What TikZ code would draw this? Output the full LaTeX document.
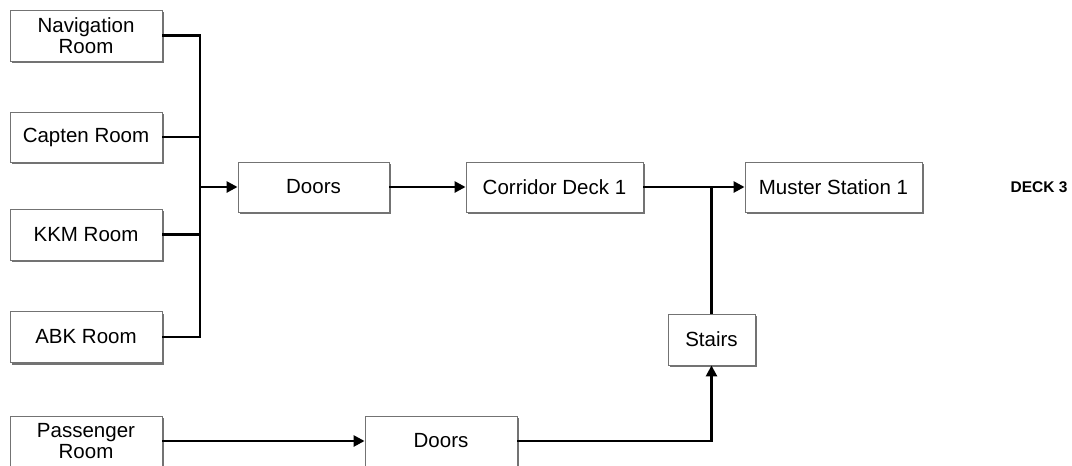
\documentclass[tikz,border=0pt]{standalone}
\usepackage{fontspec}
\setmainfont{Liberation Sans}
\usetikzlibrary{arrows.meta,shadows}
\begin{document}
\begin{tikzpicture}[x=1pt,y=-1pt,
  box/.style={draw=black!55, line width=0.9pt, fill=white, inner sep=0pt,
    align=center, font=\fontsize{20.5}{21}\selectfont,
    drop shadow={shadow xshift=2pt, shadow yshift=-2pt, fill=black!55, opacity=1}},
  conn/.style={line width=2.6pt, black},
  arr/.style={conn, -{Triangle[length=11pt,width=11pt]}}]
\useasboundingbox (0,0) rectangle (1072,466);
% boxes
\node[box, minimum width=152pt, minimum height=51pt] (nav) at (86,35.5) {Navigation\\Room};
\node[box, minimum width=152pt, minimum height=50pt] (cap) at (86,137) {Capten Room};
\node[box, minimum width=152pt, minimum height=51pt] (kkm) at (86,234.5) {KKM Room};
\node[box, minimum width=152pt, minimum height=51pt] (abk) at (86,337) {ABK Room};
\node[box, minimum width=152pt, minimum height=50pt] (pas) at (86,441) {Passenger\\Room};
\node[box, minimum width=151pt, minimum height=50pt] (d1) at (313.5,187) {Doors};
\node[box, minimum width=177pt, minimum height=50pt] (cor) at (554.5,187) {Corridor Deck 1};
\node[box, minimum width=177pt, minimum height=50pt] (mus) at (833.5,187) {Muster Station 1};
\node[box, minimum width=87pt, minimum height=51pt] (st) at (711.5,339.5) {Stairs};
\node[box, minimum width=152pt, minimum height=50pt] (d2) at (441,441) {Doors};
\node[font=\bfseries\fontsize{15.5}{16}\selectfont, anchor=east] (deck) at (1071,187) {DECK 3};
% bus
\coordinate (bt) at (200,35.5);
\coordinate (bb) at (200,337);
\draw[conn] (nav.east) -- (bt) -- (bb) -- (abk.east);
\draw[conn] (cap.east) -- (cap.east -| bt);
\draw[conn] (kkm.east) -- (kkm.east -| bt);
\draw[arr] (bt |- d1.west) -- (d1.west);
\draw[arr] (d1.east) -- (cor.west);
\draw[arr] (cor.east) -- (mus.west);
\draw[conn] (st.north) -- (st.north |- mus.west);
\draw[arr] (pas.east) -- (d2.west);
\draw[arr] (d2.east) -| (st.south);
\end{tikzpicture}
\end{document}
